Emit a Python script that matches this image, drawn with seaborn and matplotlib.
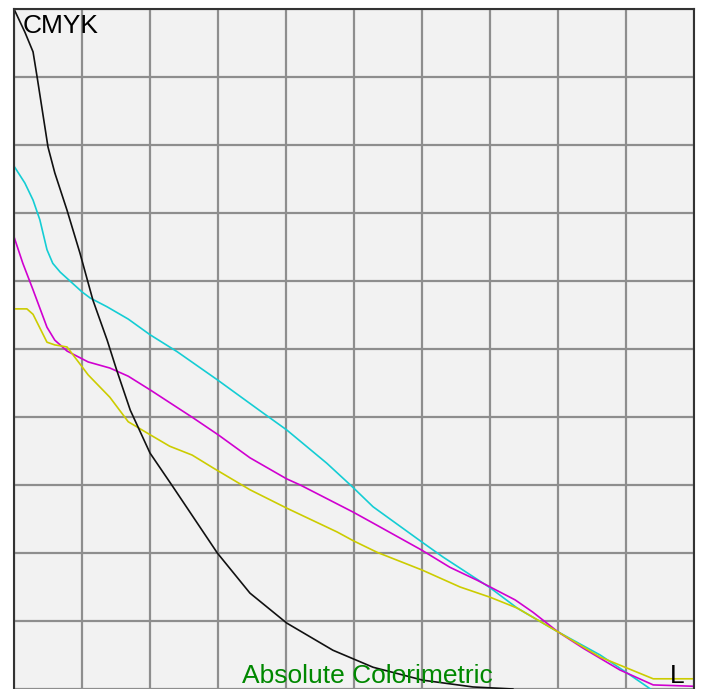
import matplotlib
matplotlib.use("Agg")
import matplotlib.pyplot as plt
import seaborn as sns
import pandas as pd

# L (x) vs ink amount (y), in percent
k_x = [0, 1.6, 2.8, 3.4, 5.0, 6.0, 7.8, 9.7, 11.6, 13.7, 15.1, 17.1, 20.0, 23.4, 29.9, 34.7, 40.1, 46.9, 52.8, 60.1, 67.5, 73.4]
k_y = [100, 96.6, 93.7, 90.0, 79.7, 75.9, 70.4, 64.1, 57.2, 51.3, 46.9, 41.0, 34.7, 29.7, 20.0, 14.1, 9.7, 5.7, 3.2, 1.3, 0.3, 0.0]

c_x = [0, 1.6, 2.8, 3.8, 4.85, 5.7, 6.8, 10.0, 11.2, 13.7, 16.8, 20.0, 24.0, 30.0, 36.2, 40.1, 46.0, 49.9, 52.8, 60.0, 63.1, 70.0, 74.0, 80.0, 86.2, 90.1, 93.6]
c_y = [76.9, 74.4, 71.9, 69.0, 64.6, 62.6, 61.3, 58.4, 57.5, 56.2, 54.4, 52.1, 49.6, 45.4, 40.9, 38.1, 33.2, 29.6, 26.8, 21.6, 19.4, 14.9, 11.9, 8.4, 5.0, 2.4, 0.0]

m_x = [0, 1.3, 2.8, 4.85, 6.0, 7.8, 10.9, 14.1, 16.8, 20.0, 26.3, 30.0, 34.7, 40.1, 42.1, 49.9, 52.8, 60.0, 64.1, 68.1, 73.7, 76.3, 80.0, 83.7, 89.1, 94.0, 100]
m_y = [66.5, 62.6, 58.7, 53.2, 51.3, 49.7, 48.1, 47.2, 46.0, 44.0, 39.9, 37.4, 34.0, 30.9, 30.0, 26.0, 24.4, 20.4, 17.9, 16.0, 13.1, 11.3, 8.4, 6.0, 2.8, 0.6, 0.4]

y_x = [0, 1.9, 2.8, 4.85, 6.0, 7.8, 10.0, 10.9, 14.1, 16.8, 20.0, 22.9, 26.2, 29.3, 34.7, 40.1, 47.5, 49.9, 53.4, 60.0, 65.6, 70.0, 74.0, 80.0, 86.2, 90.1, 94.0, 100]
y_y = [55.9, 55.9, 55.1, 51.0, 50.6, 50.3, 47.4, 46.2, 42.9, 39.3, 37.4, 35.7, 34.4, 32.5, 29.3, 26.6, 23.1, 21.8, 20.1, 17.5, 15.0, 13.5, 11.9, 8.4, 4.7, 3.1, 1.5, 1.5]

series = [
    ("C", c_x, c_y, "#14cdd4"),
    ("M", m_x, m_y, "#d000d0"),
    ("Y", y_x, y_y, "#cccc00"),
    ("K", k_x, k_y, "#111111"),
]

sns.set_style("white")
plt.rcParams['font.family'] = ['Liberation Sans', 'DejaVu Sans']

fig = plt.figure(figsize=(7.03, 6.89), dpi=100)
fig.patch.set_facecolor("white")
ax = fig.add_axes([14 / 703, 0, 680 / 703, 680 / 689])
ax.set_facecolor("#f2f2f2")

for name, xs, ys, col in series:
    df = pd.DataFrame({"L": xs, "v": ys})
    sns.lineplot(data=df, x="L", y="v", ax=ax, color=col, linewidth=1.2,
                 sort=False, estimator=None)

ax.set_xlim(0, 100)
ax.set_ylim(0, 100)
ax.set_xticks(range(0, 101, 10))
ax.set_yticks(range(0, 101, 10))
ax.grid(True, color="#8e8e8e", linewidth=1.6)
ax.set_axisbelow(True)
ax.tick_params(length=0, labelbottom=False, labelleft=False)
ax.set_xlabel("")
ax.set_ylabel("")
for s in ["top", "left", "right"]:
    ax.spines[s].set_color("#333333")
    ax.spines[s].set_linewidth(1.5)
ax.spines["bottom"].set_visible(False)

ax.text(1.2, 96.5, "CMYK", fontsize=19, color="black", va="baseline", ha="left")
ax.text(52.0, 0.9, "Absolute Colorimetric", fontsize=19, color="#008800", va="baseline", ha="center")
ax.text(96.5, 0.9, "L", fontsize=19, color="black", va="baseline", ha="left")

fig.savefig("out.png", dpi=100)
